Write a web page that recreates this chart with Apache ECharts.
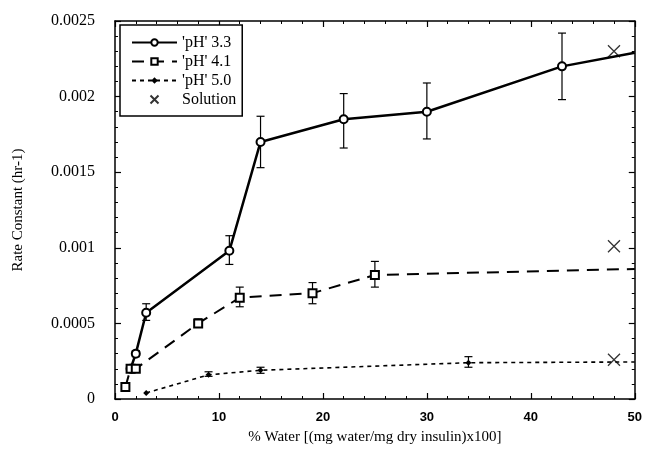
<!DOCTYPE html>
<html><head><meta charset="utf-8">
<script src="https://cdn.jsdelivr.net/npm/echarts@6/dist/echarts.min.js"></script>
<style>html,body{margin:0;padding:0;background:#fff}#c{width:645px;height:452px}</style>
</head><body><div id="c"></div>
<script>
// pH 3.3
const ph33X = [1.5, 2, 3, 11, 14, 22, 30, 43, 50];
const ph33Y = [0.0002, 0.0003, 0.00057, 0.00098, 0.0017, 0.00185, 0.0019, 0.0022, 0.00229];
const ph33ErrX = [2, 3, 11, 14, 22, 30, 43];
const ph33ErrLo = [0.00028, 0.00052, 0.00089, 0.00153, 0.00166, 0.00172, 0.00198];
const ph33ErrHi = [0.00032, 0.00063, 0.00108, 0.00187, 0.00202, 0.00209, 0.00242];
// pH 4.1
const ph41X = [1, 1.5, 2, 8, 12, 19, 25, 50];
const ph41Y = [0.00008, 0.0002, 0.0002, 0.0005, 0.00067, 0.0007, 0.00082, 0.00086];
const ph41ErrX = [8, 12, 19, 25];
const ph41ErrLo = [0.00048, 0.00061, 0.00063, 0.00074];
const ph41ErrHi = [0.00053, 0.00074, 0.00077, 0.00091];
// pH 5.0
const ph50X = [3, 9, 14, 34, 50];
const ph50Y = [0.00004, 0.00016, 0.00019, 0.00024, 0.000245];
const ph50ErrX = [9, 14, 34];
const ph50ErrLo = [0.00015, 0.00017, 0.00021];
const ph50ErrHi = [0.00018, 0.00021, 0.00028];
// Solution
const solX = [48, 48, 48];
const solY = [0.0023, 0.00101, 0.00026];

const names = ["'pH' 3.3", "'pH' 4.1", "'pH' 5.0", "Solution"];
const xTicks = [0, 10, 20, 30, 40, 50];
const yTicks = [0, 0.0005, 0.001, 0.0015, 0.002, 0.0025];

const X_PATH = 'path://M0,0L10,10M10,0L0,10';

function lineData(xs, ys, lastNoMarker) {
  return xs.map((x, i) => (lastNoMarker && i === xs.length - 1) ? {value: [x, ys[i]], symbol: 'none'} : [x, ys[i]]);
}
function errSeries(xs, lo, hi, cap) {
  return {
    type: 'custom', silent: true, z: 3,
    data: xs.map((x, i) => [x, lo[i], hi[i]]),
    renderItem: function (params, api) {
      const x = api.value(0);
      const a = api.coord([x, api.value(1)]);
      const b = api.coord([x, api.value(2)]);
      const st = {stroke: '#000', lineWidth: 1.2};
      return {type: 'group', children: [
        {type: 'line', shape: {x1: a[0], y1: a[1], x2: b[0], y2: b[1]}, style: st},
        {type: 'line', shape: {x1: a[0] - cap, y1: a[1], x2: a[0] + cap, y2: a[1]}, style: st},
        {type: 'line', shape: {x1: b[0] - cap, y1: b[1], x2: b[0] + cap, y2: b[1]}, style: st}
      ]};
    }
  };
}
function axisCommon() {
  return {
    min: 0, axisLine: {show: true, onZero: false, lineStyle: {color: '#000', width: 1.5}},
    axisTick: {show: true, inside: true, length: 6, lineStyle: {color: '#000', width: 1.2}},
    minorTick: {show: true, splitNumber: 5, length: 3, lineStyle: {color: '#000', width: 1}},
    splitLine: {show: false}, minorSplitLine: {show: false}
  };
}

const chart = echarts.init(document.getElementById('c'), null, {renderer: 'canvas'});
const serif = 'Liberation Serif';
chart.setOption({
  animation: false,
  backgroundColor: '#fff',
  grid: {left: 115, right: 9, top: 21, bottom: 53, show: false},
  legend: {
    data: names, orient: 'vertical', left: 120, top: 25,
    backgroundColor: '#fff', borderColor: '#000', borderWidth: 1.5, borderRadius: 0,
    padding: [9, 6, 8, 11], itemGap: 2, itemWidth: 45, itemHeight: 8,
    textStyle: {fontFamily: serif, fontSize: 16, lineHeight: 17, color: '#000'}
  },
  xAxis: [
    Object.assign(axisCommon(), {type: 'value', max: 50, interval: 10, position: 'bottom',
      name: '% Water [(mg water/mg dry insulin)x100]', nameLocation: 'middle', nameGap: 31,
      nameTextStyle: {fontFamily: serif, fontSize: 15, color: '#000'},
      axisLabel: {margin: 12, fontFamily: 'Liberation Sans', fontWeight: 'bold', fontSize: 13, color: '#000',
        formatter: v => xTicks.indexOf(v) >= 0 ? String(v) : ''}}),
    Object.assign(axisCommon(), {type: 'value', max: 50, interval: 10, position: 'top', axisLabel: {show: false}})
  ],
  yAxis: [
    Object.assign(axisCommon(), {type: 'value', max: 0.0025, interval: 0.0005, position: 'left',
      name: 'Rate Constant (hr-1)', nameLocation: 'middle', nameGap: 89,
      nameTextStyle: {fontFamily: serif, fontSize: 15, color: '#000'},
      axisLabel: {margin: 20, fontFamily: serif, fontSize: 16, color: '#000',
        formatter: v => { const t = yTicks.find(k => Math.abs(k - v) < 1e-9); return t === undefined ? '' : (t === 0 ? '0' : String(+t.toFixed(4))); }}}),
    Object.assign(axisCommon(), {type: 'value', max: 0.0025, interval: 0.0005, position: 'right', axisLabel: {show: false}})
  ],
  series: [
    {name: names[0], type: 'line', data: lineData(ph33X, ph33Y, true), symbol: 'emptyCircle', symbolSize: 8, z: 5,
      lineStyle: {color: '#000', width: 2.5, type: 'solid'}, itemStyle: {color: '#000', borderWidth: 1}},
    {name: names[1], type: 'line', data: lineData(ph41X, ph41Y, true), symbol: 'emptyRect', symbolSize: 8, z: 5,
      lineStyle: {color: '#000', width: 2, type: [12, 8]}, itemStyle: {color: '#000', borderWidth: 1}},
    {name: names[2], type: 'line', data: lineData(ph50X, ph50Y, true), symbol: 'diamond', symbolSize: 6, z: 5,
      lineStyle: {color: '#000', width: 1.6, type: [4, 4]}, itemStyle: {color: '#000'}},
    {name: names[3], type: 'scatter', data: solX.map((x, i) => [x, solY[i]]), symbol: X_PATH, symbolSize: 12, z: 6,
      itemStyle: {color: 'none', borderColor: '#000', borderWidth: 1.3}},
    errSeries(ph33ErrX, ph33ErrLo, ph33ErrHi, 4),
    errSeries(ph41ErrX, ph41ErrLo, ph41ErrHi, 4),
    errSeries(ph50ErrX, ph50ErrLo, ph50ErrHi, 4)
  ]
});
</script></body></html>
